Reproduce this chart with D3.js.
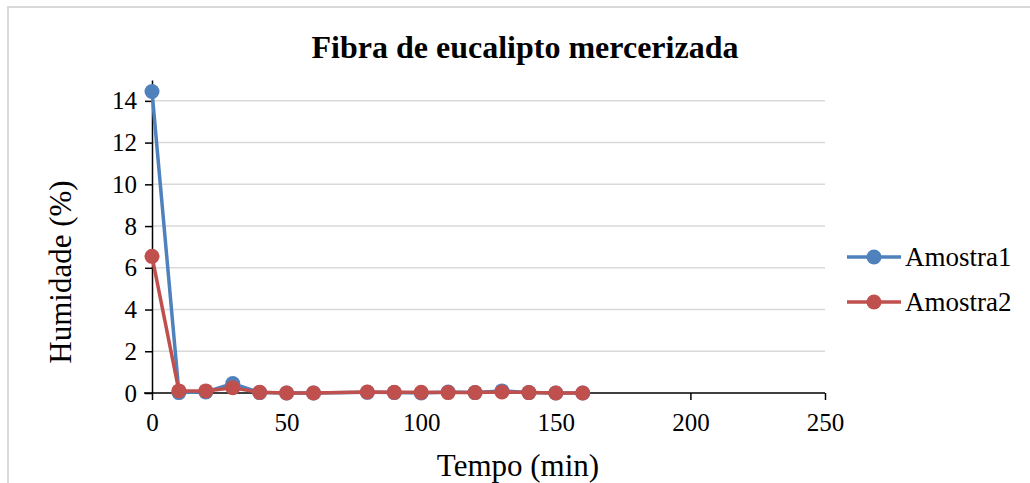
<!DOCTYPE html>
<html>
<head>
<meta charset="utf-8">
<script src="https://cdn.jsdelivr.net/npm/d3@7"></script>
<style>
  body { margin: 0; background: #fff; }
</style>
</head>
<body>
<svg id="chart" width="1030" height="483"></svg>
<script>
// data
const tempo = [0, 10, 20, 30, 40, 50, 60, 80, 90, 100, 110, 120, 130, 140, 150, 160];
const amostra1 = [14.45, 0.02, 0.05, 0.45, 0.02, 0.0, 0.0, 0.03, 0.02, 0.0, 0.05, 0.02, 0.1, 0.02, 0.0, 0.0];
const amostra2 = [6.55, 0.1, 0.1, 0.25, 0.03, 0.0, 0.0, 0.05, 0.03, 0.03, 0.02, 0.02, 0.05, 0.02, 0.0, 0.0];
const seriesNames = ["Amostra1", "Amostra2"];
const seriesColors = ["#4f81bd", "#c0504d"];
const xTicks = [0, 50, 100, 150, 200, 250];
const yTicks = [0, 2, 4, 6, 8, 10, 12, 14];

const serif = "Liberation Serif";
const svg = d3.select("#chart");

// chart frame
svg.append("rect")
  .attr("x", 8).attr("y", 7)
  .attr("width", 1040).attr("height", 500)
  .attr("fill", "none")
  .attr("stroke", "#d9d9d9")
  .attr("stroke-width", 2);

const x = d3.scaleLinear().domain([0, 250]).range([152, 825]);
const y = d3.scaleLinear().domain([0, 15]).range([393, 80]);

// gridlines
svg.append("g")
  .selectAll("line")
  .data(yTicks.filter(d => d > 0))
  .join("line")
  .attr("x1", x(0)).attr("x2", x(250))
  .attr("y1", d => y(d)).attr("y2", d => y(d))
  .attr("stroke", "#d9d9d9")
  .attr("stroke-width", 1.5);

// axes
const xAxis = svg.append("g")
  .attr("transform", `translate(0,${y(0)})`)
  .call(d3.axisBottom(x).tickValues(xTicks).tickSize(7).tickSizeOuter(0).tickPadding(13));

const yAxis = svg.append("g")
  .attr("transform", `translate(${x(0)},0)`)
  .call(d3.axisLeft(y).tickValues(yTicks).tickSize(7).tickSizeOuter(0).tickPadding(8));

[xAxis, yAxis].forEach(g => {
  g.attr("font-family", serif).attr("font-size", 25);
  g.selectAll("path, line").attr("stroke", "#000").attr("stroke-width", 1.5);
  g.selectAll("text").attr("fill", "#000");
});
// x-axis line also runs left past the y-axis a little
xAxis.select("path.domain").attr("d", `M${x(0) - 8},0H${x(250)}`);

// series
const line = d3.line()
  .x(d => x(d[0]))
  .y(d => y(d[1]));

[amostra1, amostra2].forEach((vals, i) => {
  const pts = tempo.map((t, j) => [t, vals[j]]);
  const g = svg.append("g");
  g.append("path")
    .datum(pts)
    .attr("d", line)
    .attr("fill", "none")
    .attr("stroke", seriesColors[i])
    .attr("stroke-width", 3.5);
  g.selectAll("circle")
    .data(pts)
    .join("circle")
    .attr("cx", d => x(d[0]))
    .attr("cy", d => y(d[1]))
    .attr("r", 7.5)
    .attr("fill", seriesColors[i]);
});

// title
svg.append("text")
  .attr("x", 525).attr("y", 58)
  .attr("text-anchor", "middle")
  .attr("font-family", serif)
  .attr("font-size", 32)
  .attr("font-weight", "bold")
  .text("Fibra de eucalipto mercerizada");

// axis titles
svg.append("text")
  .attr("x", 518).attr("y", 476)
  .attr("text-anchor", "middle")
  .attr("font-family", serif)
  .attr("font-size", 31)
  .text("Tempo (min)");

svg.append("text")
  .attr("transform", "translate(71,272) rotate(-90)")
  .attr("text-anchor", "middle")
  .attr("font-family", serif)
  .attr("font-size", 31)
  .text("Humidade (%)");

// legend
const legend = svg.append("g")
  .selectAll("g")
  .data(seriesNames)
  .join("g")
  .attr("transform", (d, i) => `translate(847,${257 + i * 45})`);

legend.append("line")
  .attr("x1", 0).attr("x2", 54)
  .attr("stroke", (d, i) => seriesColors[i])
  .attr("stroke-width", 3.5);
legend.append("circle")
  .attr("cx", 27).attr("r", 7.5)
  .attr("fill", (d, i) => seriesColors[i]);
legend.append("text")
  .attr("x", 58).attr("y", 9)
  .attr("font-family", serif)
  .attr("font-size", 27)
  .text(d => d);
</script>
</body>
</html>
